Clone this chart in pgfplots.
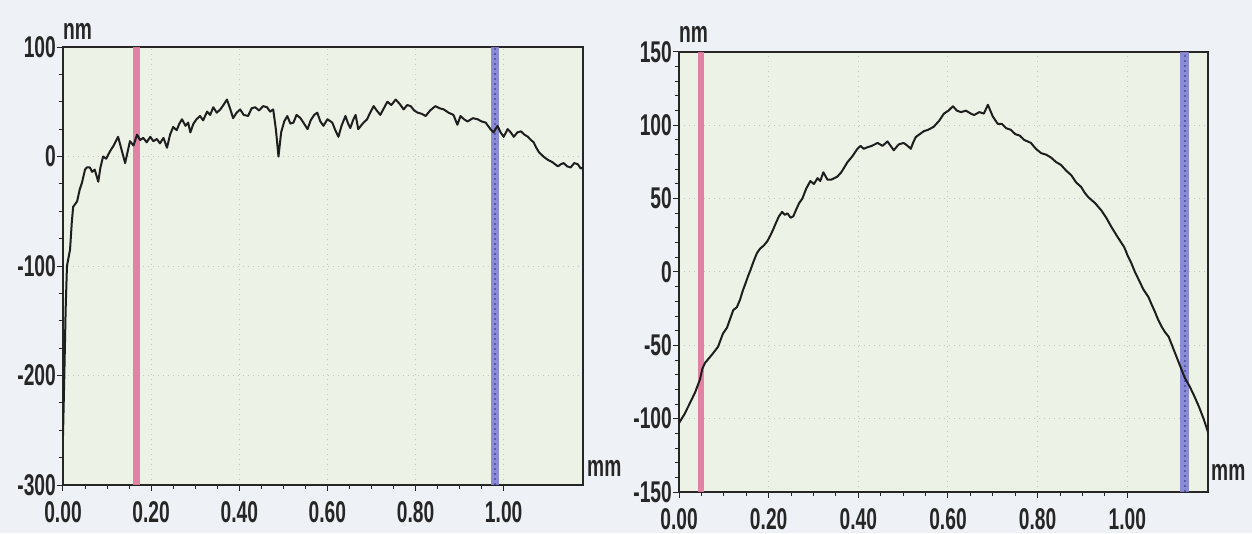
\documentclass[border=0pt]{standalone}
\usepackage{fontspec}
\setmainfont{Liberation Sans}[FakeStretch=0.64]
\usepackage{pgfplots}
\pgfplotsset{compat=1.18}
\definecolor{outerbg}{RGB}{238,242,246}
\definecolor{plotbg}{RGB}{236,242,230}
\definecolor{bandred}{RGB}{226,120,160}
\definecolor{bandblue}{RGB}{128,128,212}
\definecolor{curvec}{RGB}{30,30,30}
\pgfplotsset{
 prof/.style={
  scale only axis,
  axis background/.style={fill=plotbg},
  axis line style={black!85, line width=1.4pt},
  tick align=outside,
  xtick pos=left, ytick pos=left,
  tick style={black!85, line width=1pt},
  major tick length=6pt, minor tick length=4pt,
  xmin=0, xmax=1.18,
  xtick={0,0.2,0.4,0.6,0.8,1.0},
  xticklabels={0.00,0.20,0.40,0.60,0.80,1.00},
  minor x tick num=3,
  grid=major,
  major grid style={gray!45, dash pattern=on 1pt off 4pt, line width=1pt},
  ticklabel style={font=\bfseries\fontsize{30}{30}\selectfont, text=black!85, inner sep=1pt},
  xticklabel style={yshift=-9pt},
  clip=true,
 }
}
\tikzset{unitlab/.style={anchor=south west, inner sep=0pt, font=\bfseries\fontsize{30}{30}\selectfont, text=black!85}}
\begin{document}
\begin{tikzpicture}
\path[fill=outerbg, use as bounding box] (0,0) rectangle (1252pt,533pt);
% left panel
\begin{axis}[prof, name=L, at={(63pt,48pt)}, anchor=south west, width=520pt, height=438pt,
  ymin=-300, ymax=100, ytick={-300,-200,-100,0,100},
  yticklabels={-300,-200,-100,0,100}, minor y tick num=3]
\addplot[bandred, line width=7pt, opacity=0.9] coordinates {(0.166,-300) (0.166,100)};
\addplot[bandblue, line width=8pt, opacity=0.9] coordinates {(0.980,-300) (0.980,100)};
\addplot[blue!40!black, line width=2pt, dash pattern=on 2pt off 3pt, opacity=0.35] coordinates {(0.980,-300) (0.980,100)};
\addplot[curvec, line width=2pt, line join=round] coordinates {
(0.000,-255) (0.003,-200) (0.006,-140) (0.009,-100) (0.016,-85) (0.020,-60) (0.023,-46)
(0.032,-41) (0.038,-30) (0.043,-24) (0.050,-12) (0.054,-10) (0.061,-10) (0.066,-14)
(0.072,-12) (0.080,-23) (0.085,-10) (0.091,0) (0.098,-2) (0.107,5) (0.115,10) (0.125,18)
(0.133,6) (0.141,-6) (0.147,5) (0.152,14) (0.160,10) (0.168,20) (0.175,15) (0.182,17)
(0.190,13) (0.198,18) (0.205,14) (0.213,16) (0.220,12) (0.228,17) (0.236,8) (0.243,20)
(0.250,27) (0.258,24) (0.264,30) (0.270,34) (0.278,28) (0.284,31) (0.289,22) (0.296,30)
(0.303,34) (0.311,37) (0.318,33) (0.327,41) (0.334,38) (0.341,45) (0.349,40) (0.357,43)
(0.364,47) (0.372,52) (0.379,44) (0.386,35) (0.394,40) (0.402,43) (0.410,38) (0.420,37)
(0.428,44) (0.436,45) (0.445,42) (0.454,46) (0.463,45) (0.470,41) (0.477,43) (0.483,25)
(0.489,0) (0.495,22) (0.502,32) (0.509,37) (0.516,30) (0.523,31) (0.530,38) (0.539,35)
(0.547,30) (0.555,25) (0.562,33) (0.570,38) (0.577,40) (0.584,32) (0.591,28) (0.600,34)
(0.611,31) (0.618,24) (0.625,18) (0.632,28) (0.641,37) (0.647,30) (0.652,26) (0.658,33)
(0.664,38) (0.670,25) (0.680,30) (0.690,34) (0.697,40) (0.705,46) (0.712,42) (0.720,38)
(0.728,44) (0.736,50) (0.745,47) (0.755,52) (0.764,48) (0.773,43) (0.781,47) (0.789,46)
(0.797,42) (0.805,40) (0.814,39) (0.823,37) (0.833,42) (0.845,46) (0.855,44) (0.864,43)
(0.875,40) (0.886,38) (0.895,29) (0.902,37) (0.910,34) (0.918,32) (0.930,35) (0.941,34)
(0.950,32) (0.959,31) (0.970,25) (0.977,22) (0.986,28) (0.993,22) (1.000,18) (1.009,25)
(1.016,22) (1.023,18) (1.031,22) (1.039,23) (1.047,20) (1.055,18) (1.062,15) (1.068,13)
(1.074,8) (1.080,4) (1.090,0) (1.100,-3) (1.110,-5) (1.123,-9) (1.130,-7) (1.136,-6)
(1.144,-9) (1.152,-10) (1.160,-6) (1.168,-7) (1.175,-11) (1.180,-10)};
\end{axis}
\node[unitlab] at ([yshift=7pt]L.north west) {nm};
\node[unitlab] at ([xshift=4pt, yshift=8pt]L.south east) {mm};
% right panel
\begin{axis}[prof, name=R, at={(679pt,41pt)}, anchor=south west, width=529pt, height=440pt,
  ymin=-150, ymax=150, ytick={-150,-100,-50,0,50,100,150},
  yticklabels={-150,-100,-50,0,50,100,150}, minor y tick num=4]
\addplot[bandred, line width=6pt, opacity=0.9] coordinates {(0.048,-150) (0.048,150)};
\addplot[bandblue, line width=9pt, opacity=0.9] coordinates {(1.128,-150) (1.128,150)};
\addplot[blue!40!black, line width=2pt, dash pattern=on 2pt off 3pt, opacity=0.35] coordinates {(1.128,-150) (1.128,150)};
\addplot[curvec, line width=2pt, line join=round] coordinates {
(0.000,-103) (0.012,-97) (0.025,-89) (0.036,-82) (0.047,-73) (0.052,-66) (0.058,-62)
(0.069,-58) (0.077,-55) (0.087,-51) (0.098,-42) (0.107,-38) (0.114,-32) (0.121,-26)
(0.129,-24) (0.136,-19) (0.142,-13) (0.148,-8) (0.155,-2) (0.159,1) (0.166,7) (0.174,13)
(0.181,16) (0.189,18) (0.197,21) (0.204,25) (0.210,29) (0.217,34) (0.223,38) (0.230,41)
(0.236,39) (0.242,40) (0.249,37) (0.255,38) (0.262,43) (0.268,47) (0.275,50) (0.284,57)
(0.293,62) (0.301,60) (0.309,64) (0.315,62) (0.322,68) (0.331,63) (0.340,63) (0.353,65)
(0.362,68) (0.370,72) (0.376,75) (0.387,79) (0.398,84) (0.405,86) (0.412,84) (0.420,85)
(0.430,86) (0.443,88) (0.454,86) (0.465,89) (0.472,86) (0.479,83) (0.490,87) (0.501,88)
(0.510,86) (0.517,84) (0.522,88) (0.528,92) (0.537,94) (0.546,96) (0.556,97) (0.568,99)
(0.580,103) (0.591,108) (0.601,110) (0.611,113) (0.620,110) (0.629,109) (0.640,110)
(0.651,108) (0.658,107) (0.670,109) (0.680,108) (0.689,114) (0.700,106) (0.711,101)
(0.720,101) (0.730,98) (0.740,97) (0.750,94) (0.760,93) (0.770,90) (0.778,89) (0.785,88)
(0.796,84) (0.808,81) (0.819,80) (0.830,78) (0.841,75) (0.852,73) (0.864,69) (0.875,66)
(0.886,61) (0.897,58) (0.905,54) (0.913,51) (0.928,47) (0.942,42) (0.953,37) (0.964,31)
(0.978,24) (0.993,17) (1.001,11) (1.009,6) (1.017,0) (1.025,-5) (1.036,-12) (1.047,-17)
(1.054,-22) (1.060,-26) (1.068,-32) (1.076,-37) (1.084,-41) (1.092,-44) (1.101,-51)
(1.110,-58) (1.119,-65) (1.128,-72) (1.139,-78) (1.150,-85) (1.160,-92) (1.170,-100)
(1.181,-110)};
\end{axis}
\node[unitlab] at ([yshift=9pt]R.north west) {nm};
\node[unitlab] at ([xshift=3pt, yshift=11pt]R.south east) {mm};
\end{tikzpicture}
\end{document}
